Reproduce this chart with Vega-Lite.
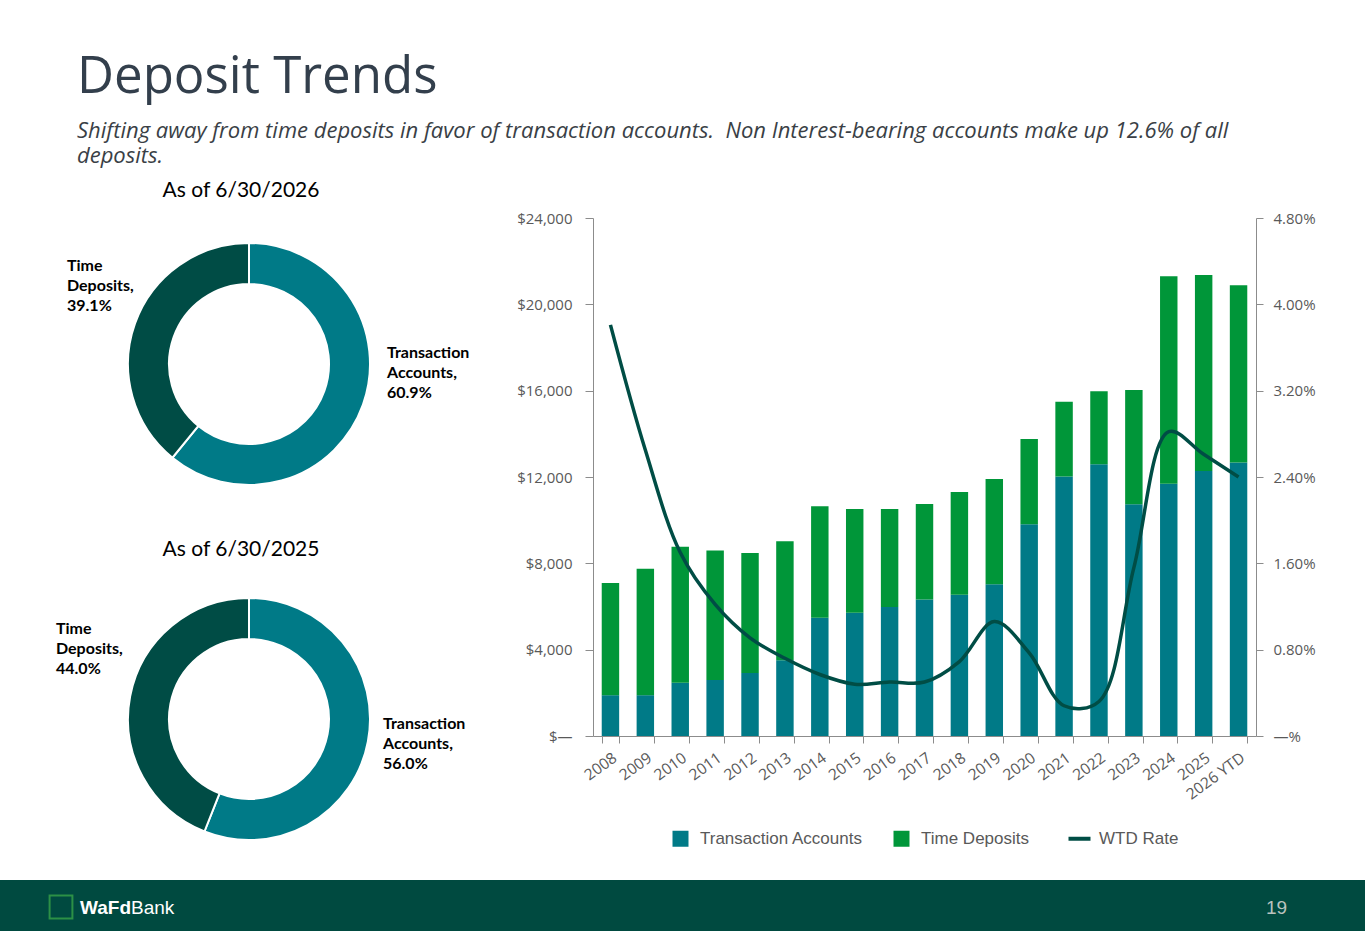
{
  "$schema": "https://vega.github.io/schema/vega-lite/v6.json",
  "padding": {"left": 0, "right": 0, "top": 52, "bottom": 0},
  "autosize": {"type": "pad"},
  "background": "#ffffff",
  "config": {
    "view": {"stroke": null},
    "font": "Open Sans"
  },
  "title": {
    "text": "Deposit Trends",
    "subtitle": [
      "Shifting away from time deposits in favor of transaction accounts.\u00a0 Non Interest-bearing accounts make up 12.6% of all",
      "deposits."
    ],
    "anchor": "start",
    "dx": 77,
    "font": "Open Sans",
    "fontSize": 51,
    "fontWeight": "normal",
    "color": "#333f4c",
    "subtitleFont": "Open Sans",
    "subtitleFontSize": 22,
    "subtitleFontStyle": "italic",
    "subtitleColor": "#3a3f46",
    "subtitleLineHeight": 25,
    "subtitlePadding": 17,
    "offset": 12
  },
  "spacing": 15,
  "vconcat": [
    {
      "bounds": "flush",
      "spacing": 95,
      "resolve": {"scale": {"color": "independent"}, "legend": {"color": "independent"}},
      "hconcat": [
        {
          "width": 498,
          "height": 647,
          "data": {"name": "shares"},
          "transform": [
            {"calculate": "datum.cat === 'Transaction Accounts' ? 0 : 1", "as": "ord"},
            {"stack": "pct", "groupby": ["asof"], "sort": [{"field": "ord"}], "as": ["t0", "t1"]},
            {"calculate": "replace(datum.cat, ' ', '\\n') + ',\\n' + format(datum.pct, '.1f') + '%'", "as": "label"},
            {"calculate": "'As of ' + datum.asof", "as": "heading"}
          ],
          "encoding": {
            "y": {"field": "asof", "type": "nominal", "sort": null, "scale": {"type": "point", "padding": 0.4113, "domain": ["6/30/2026", "6/30/2025"]}, "axis": null}
          },
          "layer": [
            {
              "mark": {"type": "arc", "innerRadius": 80, "outerRadius": 121, "stroke": "#ffffff", "strokeWidth": 2},
              "encoding": {
                "theta": {"field": "t0", "type": "quantitative", "scale": {"domain": [0, 100]}},
                "theta2": {"field": "t1"},
                "color": {"field": "cat", "type": "nominal", "scale": {"domain": ["Transaction Accounts", "Time Deposits"], "range": ["#007a87", "#004c45"]}, "legend": null}
              }
            },
            {
              "transform": [{"filter": "datum.cat === 'Transaction Accounts' && datum.asof === '6/30/2026'"}],
              "mark": {"type": "text", "align": "center", "baseline": "alphabetic", "dx": -8, "dy": -167, "font": "Lato", "fontSize": 21, "color": "#000000"},
              "encoding": {"text": {"field": "heading"}}
            },
            {
              "transform": [{"filter": "datum.cat === 'Transaction Accounts' && datum.asof === '6/30/2025'"}],
              "mark": {"type": "text", "align": "center", "baseline": "alphabetic", "dx": -8, "dy": -163, "font": "Lato", "fontSize": 21, "color": "#000000"},
              "encoding": {"text": {"field": "heading"}}
            },
            {
              "transform": [{"filter": "datum.cat === 'Transaction Accounts' && datum.asof === '6/30/2026'"}],
              "mark": {"type": "text", "align": "left", "baseline": "alphabetic", "dx": 138, "dy": -6, "lineBreak": "\n", "font": "Lato", "fontWeight": "bold", "fontSize": 16, "lineHeight": 20, "color": "#000000"},
              "encoding": {"text": {"field": "label"}}
            },
            {
              "transform": [{"filter": "datum.cat === 'Time Deposits' && datum.asof === '6/30/2026'"}],
              "mark": {"type": "text", "align": "left", "baseline": "alphabetic", "dx": -182, "dy": -93, "lineBreak": "\n", "font": "Lato", "fontWeight": "bold", "fontSize": 16, "lineHeight": 20, "color": "#000000"},
              "encoding": {"text": {"field": "label"}}
            },
            {
              "transform": [{"filter": "datum.cat === 'Transaction Accounts' && datum.asof === '6/30/2025'"}],
              "mark": {"type": "text", "align": "left", "baseline": "alphabetic", "dx": 134, "dy": 10, "lineBreak": "\n", "font": "Lato", "fontWeight": "bold", "fontSize": 16, "lineHeight": 20, "color": "#000000"},
              "encoding": {"text": {"field": "label"}}
            },
            {
              "transform": [{"filter": "datum.cat === 'Time Deposits' && datum.asof === '6/30/2025'"}],
              "mark": {"type": "text", "align": "left", "baseline": "alphabetic", "dx": -193, "dy": -85, "lineBreak": "\n", "font": "Lato", "fontWeight": "bold", "fontSize": 16, "lineHeight": 20, "color": "#000000"},
              "encoding": {"text": {"field": "label"}}
            }
          ]
        },
        {
          "width": 663,
          "height": 518,
          "data": {"name": "deposits"},
          "layer": [
            {
              "transform": [
                {"fold": ["Transaction Accounts", "Time Deposits"], "as": ["type", "amount"]},
                {"calculate": "datum.type === 'Transaction Accounts' ? 0 : 1", "as": "ord"}
              ],
              "mark": {"type": "bar"},
              "encoding": {
                "x": {
                  "field": "year", "type": "nominal", "sort": null,
                  "scale": {"paddingInner": 0.5, "paddingOuter": 0.25},
                  "axis": {"title": null, "labelAngle": -36, "labelFont": "Open Sans", "labelFontSize": 15.5, "labelColor": "#595959", "tickBand": "extent", "tickSize": 7, "tickColor": "#8c8c8c", "domainColor": "#8c8c8c", "labelPadding": 7}
                },
                "y": {
                  "field": "amount", "type": "quantitative", "stack": "zero",
                  "scale": {"domain": [0, 24000], "nice": false},
                  "axis": {"title": null, "grid": false, "values": [0, 4000, 8000, 12000, 16000, 20000, 24000], "labelExpr": "datum.value === 0 ? '$—' : '$' + format(datum.value, ',')", "labelFont": "Open Sans", "labelFontSize": 15, "labelColor": "#595959", "tickSize": 8, "tickColor": "#8c8c8c", "domainColor": "#8c8c8c", "labelPadding": 13}
                },
                "color": {
                  "field": "type", "type": "nominal",
                  "scale": {"domain": ["Transaction Accounts", "Time Deposits", "WTD Rate"], "range": ["#007a87", "#009639", "#004d45"]},
                  "legend": {
                    "title": null, "orient": "none", "direction": "horizontal", "legendX": 79, "legendY": 612,
                    "labelFont": "Liberation Sans", "labelFontSize": 17, "labelColor": "#595959", "labelOffset": 11, "labelLimit": 400,
                    "symbolType": "square", "symbolSize": 256, "columnPadding": 30,
                    "encode": {
                      "symbols": {
                        "update": {
                          "shape": {"signal": "datum.value === 'WTD Rate' ? 'stroke' : 'square'"},
                          "size": {"signal": "datum.value === 'WTD Rate' ? 484 : 256"},
                          "fill": {"signal": "datum.value === 'Transaction Accounts' ? '#007a87' : datum.value === 'Time Deposits' ? '#009639' : 'transparent'"},
                          "stroke": {"signal": "datum.value === 'WTD Rate' ? '#004d45' : 'transparent'"},
                          "strokeWidth": {"signal": "datum.value === 'WTD Rate' ? 4 : 0"},
                          "opacity": {"value": 1}
                        }
                      }
                    }
                  }
                },
                "order": {"field": "ord", "type": "quantitative"}
              }
            },
            {
              "mark": {"type": "line", "interpolate": "catmull-rom", "strokeWidth": 3.5},
              "encoding": {
                "x": {"field": "year", "type": "nominal", "sort": null},
                "y": {
                  "field": "rate", "type": "quantitative",
                  "scale": {"domain": [0, 4.8], "nice": false},
                  "axis": {"orient": "right", "title": null, "grid": false, "values": [0, 0.8, 1.6, 2.4, 3.2, 4.0, 4.8], "labelExpr": "datum.value === 0 ? '—%' : format(datum.value, '.2f') + '%'", "labelFont": "Open Sans", "labelFontSize": 15, "labelColor": "#595959", "tickSize": 7, "tickColor": "#8c8c8c", "domainColor": "#8c8c8c", "labelPadding": 10}
                },
                "color": {"datum": "WTD Rate"}
              }
            }
          ],
          "resolve": {"scale": {"y": "independent"}}
        }
      ]
    },
    {
      "width": 1365,
      "height": 52,
      "view": {"fill": "#004a40", "stroke": null},
      "data": {"values": [{"brand": "WaFd", "bank": "Bank", "page": "19"}]},
      "layer": [
        {
          "mark": {"type": "point", "shape": "square", "size": 520, "filled": false, "stroke": "#3fae49", "strokeWidth": 2},
          "encoding": {"x": {"value": 61}, "y": {"value": 27}}
        },
        {
          "mark": {"type": "text", "align": "left", "baseline": "middle", "font": "Liberation Sans", "fontWeight": "bold", "fontSize": 19, "color": "#ffffff"},
          "encoding": {"x": {"value": 80}, "y": {"value": 28}, "text": {"field": "brand"}}
        },
        {
          "mark": {"type": "text", "align": "left", "baseline": "middle", "font": "Liberation Sans", "fontSize": 19, "color": "#ffffff"},
          "encoding": {"x": {"value": 131}, "y": {"value": 28}, "text": {"field": "bank"}}
        },
        {
          "mark": {"type": "text", "align": "left", "baseline": "middle", "font": "Liberation Sans", "fontSize": 19, "color": "#b9c2be"},
          "encoding": {"x": {"value": 1266}, "y": {"value": 28}, "text": {"field": "page"}}
        }
      ]
    }
  ],
  "datasets": {
    "shares": [
      {"asof": "6/30/2026", "cat": "Transaction Accounts", "pct": 60.9},
      {"asof": "6/30/2026", "cat": "Time Deposits", "pct": 39.1},
      {"asof": "6/30/2025", "cat": "Transaction Accounts", "pct": 56.0},
      {"asof": "6/30/2025", "cat": "Time Deposits", "pct": 44.0}
    ],
    "deposits": [
      {"year": "2008", "Transaction Accounts": 1890, "Time Deposits": 5200, "rate": 3.81},
      {"year": "2009", "Transaction Accounts": 1890, "Time Deposits": 5860, "rate": 2.65},
      {"year": "2010", "Transaction Accounts": 2470, "Time Deposits": 6300, "rate": 1.70},
      {"year": "2011", "Transaction Accounts": 2600, "Time Deposits": 5990, "rate": 1.22},
      {"year": "2012", "Transaction Accounts": 2920, "Time Deposits": 5560, "rate": 0.91},
      {"year": "2013", "Transaction Accounts": 3510, "Time Deposits": 5510, "rate": 0.72},
      {"year": "2014", "Transaction Accounts": 5480, "Time Deposits": 5160, "rate": 0.57},
      {"year": "2015", "Transaction Accounts": 5710, "Time Deposits": 4810, "rate": 0.48},
      {"year": "2016", "Transaction Accounts": 5980, "Time Deposits": 4540, "rate": 0.50},
      {"year": "2017", "Transaction Accounts": 6320, "Time Deposits": 4430, "rate": 0.50},
      {"year": "2018", "Transaction Accounts": 6550, "Time Deposits": 4760, "rate": 0.69},
      {"year": "2019", "Transaction Accounts": 7030, "Time Deposits": 4880, "rate": 1.06},
      {"year": "2020", "Transaction Accounts": 9810, "Time Deposits": 3950, "rate": 0.77},
      {"year": "2021", "Transaction Accounts": 12020, "Time Deposits": 3470, "rate": 0.28},
      {"year": "2022", "Transaction Accounts": 12590, "Time Deposits": 3380, "rate": 0.32},
      {"year": "2023", "Transaction Accounts": 10740, "Time Deposits": 5290, "rate": 1.56},
      {"year": "2024", "Transaction Accounts": 11690, "Time Deposits": 9610, "rate": 2.82},
      {"year": "2025", "Transaction Accounts": 12280, "Time Deposits": 9080, "rate": 2.61},
      {"year": "2026 YTD", "Transaction Accounts": 12670, "Time Deposits": 8210, "rate": 2.40}
    ]
  }
}
